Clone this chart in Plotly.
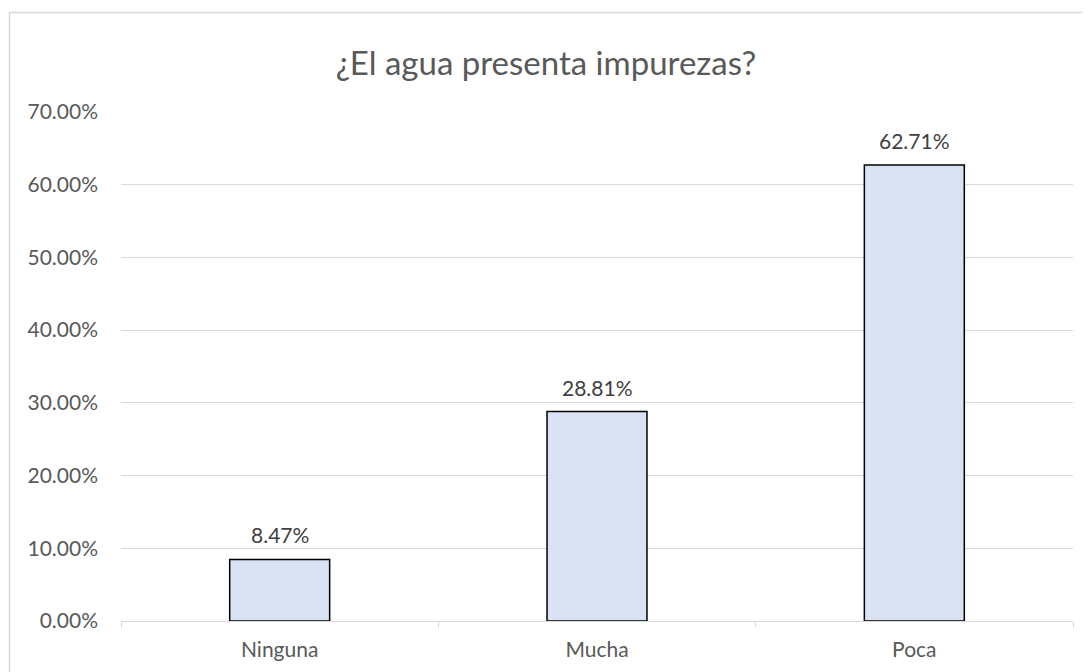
import plotly.graph_objects as go

categories = ["Ninguna", "Mucha", "Poca"]
values = [0.0847, 0.2881, 0.6271]
y_ticks = [0, 0.1, 0.2, 0.3, 0.4, 0.5, 0.6, 0.7]

OFF = 8  # page body margin
W, H = 1090 - OFF, 672 - OFF
L, R, T, B = 121 - OFF, 17, 112 - OFF, 51
pw, ph = W - L - R, H - T - B

FONT = "Lato, Liberation Sans, sans-serif"
grey = "#595959"

fig = go.Figure(go.Bar(
    x=categories, y=values,
    marker=dict(color="#dae3f3", line=dict(color="#000000", width=1.5)),
    width=0.315,
))

annotations = [
    dict(x=c, y=v, xref="x", yref="y", text=f"{v:.2%}", showarrow=False,
         yanchor="bottom", yshift=10,
         font=dict(family=FONT, size=21, color="#404040"))
    for c, v in zip(categories, values)
]

fig.update_layout(
    width=W, height=H,
    margin=dict(l=L, r=R, t=T, b=B),
    paper_bgcolor="white", plot_bgcolor="white",
    showlegend=False,
    title=dict(text="¿El agua presenta impurezas?", x=(546 - 121) / pw, xref="paper",
               xanchor="center", y=1 - (63 - OFF) / H, yanchor="middle",
               font=dict(family=FONT, size=33, color=grey)),
    font=dict(family=FONT, color=grey),
    xaxis=dict(showline=True, linecolor="#d9d9d9", linewidth=1, automargin=False,
               ticks="outside", tickson="boundaries", ticklen=5, tickcolor="#d9d9d9",
               showgrid=False, tickfont=dict(size=21, color=grey), ticklabelstandoff=10),
    yaxis=dict(range=[0, 0.7], tickvals=y_ticks, tickformat=".2%", automargin=False,
               showgrid=True, gridcolor="#d9d9d9", gridwidth=1, zeroline=False,
               showline=False, tickfont=dict(size=21, color=grey), ticklabelstandoff=22),
    annotations=annotations,
    shapes=[dict(type="rect", xref="paper", yref="paper",
                 x0=(9.5 - 121) / pw, x1=(1095 - 121) / pw,
                 y0=-(B + 5) / ph, y1=1 + (112 - 12.5) / ph,
                 line=dict(color="#d9d9d9", width=1.5), layer="below")],
)

fig.write_html("out.html")
